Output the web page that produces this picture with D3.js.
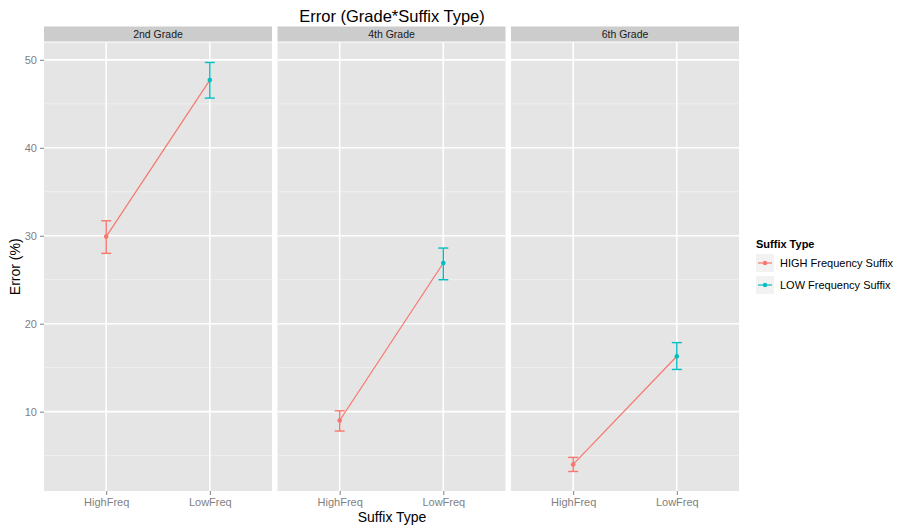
<!DOCTYPE html>
<html>
<head>
<meta charset="utf-8">
<script src="https://cdn.jsdelivr.net/npm/d3@7"></script>
<style>
  body { margin: 0; background: #fff; }
  text { font-family: "Liberation Sans", Arial, sans-serif; }
</style>
</head>
<body>
<div id="chart"></div>
<script>
// data
const grades = ["2nd Grade", "4th Grade", "6th Grade"];
const suffixTypes = ["HighFreq", "LowFreq"];
const seriesNames = ["HIGH Frequency Suffix", "LOW Frequency Suffix"];
const meanValues = [[29.9, 47.7], [9.0, 26.9], [4.0, 16.3]];
const lowerValues = [[28.0, 45.65], [7.8, 25.0], [3.2, 14.8]];
const upperValues = [[31.7, 49.7], [10.1, 28.6], [4.8, 17.85]];
const yTicks = [10, 20, 30, 40, 50];
const yMinor = [5, 15, 25, 35, 45];

const colors = ["#F8766D", "#00BFC4"];

const W = 897, H = 526;
const margin = { top: 42.5, left: 44, bottom: 35 };
const panelW = 228, gap = 5.5;
const plotH = H - margin.top - margin.bottom;

const svg = d3.select("#chart").append("svg")
  .attr("width", W).attr("height", H);

const y = d3.scaleLinear().domain([0.98, 51.97]).range([margin.top + plotH, margin.top]);
const x = d3.scalePoint().domain(suffixTypes).range([0, panelW]).padding(0.6);
const color = d3.scaleOrdinal().domain(suffixTypes).range(colors);

// title
svg.append("text")
  .attr("x", 392).attr("y", 22)
  .attr("text-anchor", "middle")
  .attr("font-size", 16.5).attr("fill", "#000")
  .text("Error (Grade*Suffix Type)");

grades.forEach((g, gi) => {
  const px = margin.left + gi * (panelW + gap);
  const panel = svg.append("g").attr("transform", "translate(" + px + ",0)");

  // strip
  panel.append("rect")
    .attr("x", 0).attr("y", 26.5).attr("width", panelW).attr("height", 15)
    .attr("fill", "#CCCCCC");
  panel.append("text")
    .attr("x", panelW / 2).attr("y", 38)
    .attr("text-anchor", "middle")
    .attr("font-size", 10.5).attr("fill", "#1a1a1a")
    .text(g);

  // background
  panel.append("rect")
    .attr("x", 0).attr("y", margin.top).attr("width", panelW).attr("height", plotH)
    .attr("fill", "#E5E5E5");

  // grid
  panel.selectAll(".minor").data(yMinor).enter().append("line")
    .attr("x1", 0).attr("x2", panelW)
    .attr("y1", d => y(d)).attr("y2", d => y(d))
    .attr("stroke", "#F2F2F2").attr("stroke-width", 0.8);
  panel.selectAll(".major").data(yTicks).enter().append("line")
    .attr("x1", 0).attr("x2", panelW)
    .attr("y1", d => y(d)).attr("y2", d => y(d))
    .attr("stroke", "#fff").attr("stroke-width", 1.6);
  panel.selectAll(".vmajor").data(suffixTypes).enter().append("line")
    .attr("x1", d => x(d)).attr("x2", d => x(d))
    .attr("y1", margin.top).attr("y2", margin.top + plotH)
    .attr("stroke", "#fff").attr("stroke-width", 1.6);

  // x axis
  const xAxis = panel.append("g")
    .attr("transform", "translate(0," + (margin.top + plotH) + ")")
    .call(d3.axisBottom(x).tickSize(4).tickPadding(3));
  xAxis.select(".domain").remove();
  xAxis.selectAll("line").attr("stroke", "#7f7f7f");
  xAxis.selectAll("text").attr("font-size", 11).attr("fill", "#7f7f7f")
    .attr("font-family", "Liberation Sans, Arial, sans-serif");

  const pts = suffixTypes.map((s, si) => ({
    s: s, mean: meanValues[gi][si], lo: lowerValues[gi][si], hi: upperValues[gi][si]
  }));

  // connecting line
  panel.append("path")
    .datum(pts)
    .attr("d", d3.line().x(d => x(d.s)).y(d => y(d.mean)))
    .attr("fill", "none").attr("stroke", colors[0]).attr("stroke-width", 1.2);

  // error bars
  const eb = panel.selectAll(".eb").data(pts).enter().append("g")
    .attr("stroke", d => color(d.s)).attr("stroke-width", 1.4).attr("fill", "none");
  eb.append("line")
    .attr("x1", d => x(d.s)).attr("x2", d => x(d.s))
    .attr("y1", d => y(d.lo)).attr("y2", d => y(d.hi));
  eb.append("line")
    .attr("x1", d => x(d.s) - 5).attr("x2", d => x(d.s) + 5)
    .attr("y1", d => y(d.lo)).attr("y2", d => y(d.lo));
  eb.append("line")
    .attr("x1", d => x(d.s) - 5).attr("x2", d => x(d.s) + 5)
    .attr("y1", d => y(d.hi)).attr("y2", d => y(d.hi));

  // points
  panel.selectAll(".pt").data(pts).enter().append("circle")
    .attr("cx", d => x(d.s)).attr("cy", d => y(d.mean)).attr("r", 2.3)
    .attr("fill", d => color(d.s));
});

// y axis (left panel only)
const yAxis = svg.append("g")
  .attr("transform", "translate(" + margin.left + ",0)")
  .call(d3.axisLeft(y).tickValues(yTicks).tickSize(4).tickPadding(3));
yAxis.select(".domain").remove();
yAxis.selectAll("line").attr("stroke", "#7f7f7f");
yAxis.selectAll("text").attr("font-size", 11).attr("fill", "#7f7f7f")
  .attr("font-family", "Liberation Sans, Arial, sans-serif");

// axis titles
svg.append("text")
  .attr("x", 392).attr("y", 522)
  .attr("text-anchor", "middle").attr("font-size", 14).attr("fill", "#000")
  .text("Suffix Type");
svg.append("text")
  .attr("transform", "translate(20," + (margin.top + plotH / 2) + ") rotate(-90)")
  .attr("text-anchor", "middle").attr("font-size", 14).attr("fill", "#000")
  .text("Error (%)");

// legend
const legend = svg.append("g").attr("transform", "translate(756,0)");
legend.append("text")
  .attr("x", 0).attr("y", 248)
  .attr("font-size", 11).attr("font-weight", "bold").attr("fill", "#000")
  .text("Suffix Type");
seriesNames.forEach((name, i) => {
  const ky = 254 + i * 22;
  const item = legend.append("g");
  item.append("rect")
    .attr("x", 0).attr("y", ky).attr("width", 18).attr("height", 18)
    .attr("fill", "#F2F2F2");
  item.append("line")
    .attr("x1", 2).attr("x2", 16).attr("y1", ky + 9).attr("y2", ky + 9)
    .attr("stroke", colors[i]).attr("stroke-width", 1.2);
  item.append("circle")
    .attr("cx", 9).attr("cy", ky + 9).attr("r", 2.2).attr("fill", colors[i]);
  item.append("text")
    .attr("x", 24).attr("y", ky + 13)
    .attr("font-size", 11).attr("fill", "#000")
    .text(name);
});
</script>
</body>
</html>
